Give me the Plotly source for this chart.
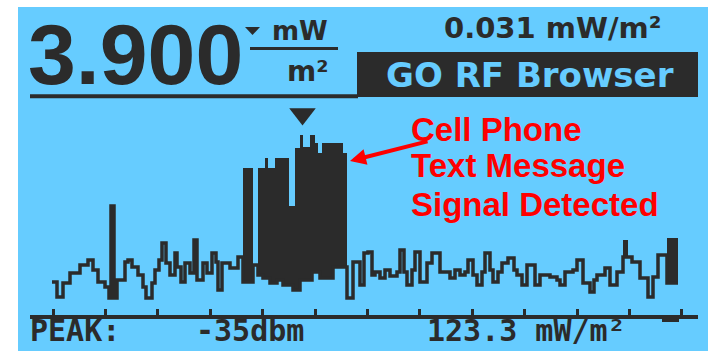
import plotly.graph_objects as go

# ---------------- data ----------------
# live spectrum trace: frequency bin vs level (dBm)
noise_bin = [22, 27, 33, 40, 50, 58, 63, 68, 75, 79,
             81, 84, 87, 95, 98, 102, 108, 113, 116, 122,
             125, 129, 132, 136, 140, 145, 147, 151, 155, 160,
             164, 167, 173, 177, 182, 186, 188, 192, 200, 208,
             213, 223, 228, 233, 240, 247, 253, 263, 270, 282,
             290, 303, 317, 323, 330, 334, 338, 342, 345, 350,
             355, 360, 367, 370, 374, 377, 382, 385, 390, 397,
             402, 410, 420, 425, 430, 435, 438, 443, 447, 452,
             455, 460, 463, 468, 472, 478, 484, 487, 492, 497,
             505, 510, 520, 527, 530, 535, 543, 547, 553, 560,
             564, 567, 575, 580, 587, 593, 598, 602, 610, 618,
             623, 628, 637, 648]
noise_dbm = [-108.5, -116, -109, -104, -100, -97.5, -102.5, -108.5, -111, -116.5,
             -70.5, -116.5, -107.5, -98.5, -97.5, -101, -105, -111, -116.5, -109,
             -102.5, -97.5, -89, -99, -105, -94, -101, -108.5, -99, -104,
             -87.5, -107.5, -99, -104, -94, -98.5, -112.5, -99, -101.5, -96,
             -108.5, -100, -105, -106.5, -109, -107.5, -110, -112.5, -107.5, -103.5,
             -106.5, -101, -116.5, -98.5, -110, -94, -93.5, -105, -103.5, -106.5,
             -102.5, -105.5, -103.5, -92.5, -103.5, -110, -102.5, -93.5, -108.5, -99,
             -94, -103.5, -106.5, -102.5, -105, -103.5, -97.5, -105, -110, -103.5,
             -94, -102.5, -108.5, -103.5, -99, -96.5, -102.5, -105, -110, -100,
             -110, -105, -106, -107.5, -110, -103.5, -102.5, -97.5, -109, -113.5,
             -107.5, -105, -101.5, -110, -103.5, -96, -96, -98.5, -106.5, -116,
             -106, -95, -109, -109]

# filled (max-hold) segments: start bin, end bin, top level, bottom level (dBm)
fill_start = [213, 228, 233, 235, 238, 240, 245, 247, 253, 259,
              263, 265, 270, 273, 280, 282, 285, 288, 290, 292,
              303, 313, 593, 637]
fill_end = [223, 233, 235, 238, 240, 245, 247, 253, 259, 263,
            265, 270, 273, 280, 282, 285, 288, 290, 292, 303,
            313, 317, 598, 648]
fill_top = [-51.5, -51.5, -51.5, -46.5, -51.5, -51.5, -46.5, -46.5, -46.5, -70.5,
            -70.5, -41.5, -35, -41, -35, -35, -39, -44, -44, -39,
            -39, -44, -87.5, -86.5]
fill_bottom = [-108.5, -105, -106.5, -106.5, -106.5, -109, -109, -107.5, -110, -110,
               -112.5, -112.5, -107.5, -107.5, -107.5, -103.5, -103.5, -103.5, -106.5, -106.5,
               -101, -101, -96, -109]

main_value = "3.900"
top_right_reading = "0.031 mW/m²"
mode_label = "GO RF Browser"
peak_label = "PEAK:"
peak_dbm = "-35dbm"
peak_density = "123.3 mW/m²"
callout_lines = ["Cell Phone", "Text Message", "Signal Detected"]

# ---------------- style ----------------
LCD = "#66CCFF"
INK = "#2B2B2B"
W, H = 720, 351


def px(x):
    return x / W


def py(y):
    return 1 - y / H


fig = go.Figure()

# filled segments as bars
fig.add_trace(go.Bar(
    x=[(s + e) / 2 for s, e in zip(fill_start, fill_end)],
    width=[e - s for s, e in zip(fill_start, fill_end)],
    base=fill_bottom,
    y=[t - b for t, b in zip(fill_top, fill_bottom)],
    marker=dict(color=INK, line=dict(width=0)),
    hoverinfo="skip", showlegend=False,
))

# live trace
fig.add_trace(go.Scatter(
    x=noise_bin, y=noise_dbm, mode="lines",
    line=dict(color=INK, width=3.5, shape="hv"),
    hoverinfo="skip", showlegend=False,
))

# peak marker
peak_i = max(range(len(fill_top)), key=lambda i: fill_top[i])
fig.add_trace(go.Scatter(
    x=[(fill_start[peak_i] + fill_end[peak_i]) / 2 + 1], y=[fill_top[peak_i] + 10.5],
    mode="markers",
    marker=dict(symbol="triangle-down", size=23, color=INK, line=dict(width=0)),
    hoverinfo="skip", showlegend=False,
))

shapes = [
    # LCD panel
    dict(type="rect", xref="paper", yref="paper", x0=px(18), x1=px(708), y0=py(352), y1=py(7),
         fillcolor=LCD, line=dict(width=0), layer="below"),
    # header underline
    dict(type="line", xref="paper", yref="paper", x0=px(30), x1=px(358), y0=py(96.3), y1=py(96.3),
         line=dict(color=INK, width=4)),
    # mode box
    dict(type="rect", xref="paper", yref="paper", x0=px(357), x1=px(698), y0=py(97), y1=py(52),
         fillcolor=INK, line=dict(width=0)),
    # fraction bar
    dict(type="line", xref="paper", yref="paper", x0=px(250), x1=px(338), y0=py(48.5), y1=py(48.5),
         line=dict(color=INK, width=3)),
    # small triangle near value
    dict(type="path", xref="paper", yref="paper",
         path=f"M {px(245)},{py(27)} L {px(260)},{py(27)} L {px(252.5)},{py(35)} Z",
         fillcolor=INK, line=dict(width=0)),
    # scale end notch
    dict(type="rect", xref="paper", yref="paper", x0=px(662), x1=px(679), y0=py(322), y1=py(315),
         fillcolor=INK, line=dict(width=0)),
]

ann = []


def txt(t, x, y, size, family, color=INK, xanchor="left", yanchor="middle"):
    ann.append(dict(text=t, x=px(x), y=py(y), xref="paper", yref="paper", showarrow=False,
                    xanchor=xanchor, yanchor=yanchor,
                    font=dict(size=size, family=family, color=color)))


MONO = "DejaVu Sans Mono"
SANS = "DejaVu Sans"
txt(f"<b>{main_value}</b>", 26, 54, 86, "Liberation Sans")
txt("<b>mW</b>", 300, 31, 26, SANS, xanchor="center")
txt("<b>m²</b>", 307, 71, 28, SANS, xanchor="center")
txt(f"<b>{top_right_reading}</b>", 553, 28, 29, SANS, xanchor="center")
txt(f"<b>{mode_label}</b>", 530, 75, 34, SANS, color=LCD, xanchor="center")
txt(f"<b>{peak_label}</b>", 28, 330, 30, MONO)
txt(f"<b>{peak_dbm}</b>", 194, 330, 30, MONO)
txt(f"<b>{peak_density}</b>", 425, 330, 30, MONO)
for line, yc in zip(callout_lines, [129, 165, 204]):
    txt(f"<b>{line}</b>", 409, yc, 33, "Liberation Sans", color="#FF0000")

# red arrow
ann.append(dict(text="", x=px(350), y=py(161), xref="paper", yref="paper",
                showarrow=True, ax=79, ay=-20, axref="pixel", ayref="pixel",
                arrowcolor="#FF0000", arrowwidth=4, arrowhead=2, arrowsize=0.8))

fig.update_layout(
    width=W, height=H, margin=dict(l=0, r=0, t=0, b=0),
    paper_bgcolor="white", plot_bgcolor="rgba(0,0,0,0)",
    shapes=shapes, annotations=ann, showlegend=False, bargap=0,
    xaxis=dict(domain=[px(30), px(698)], range=[0, 668], showgrid=False, zeroline=False,
               showticklabels=False, showline=True, linecolor=INK, linewidth=4,
               ticks="inside", ticklen=6, tickwidth=3, tickcolor=INK, tick0=23, dtick=52.4,
               anchor="free", position=py(316.5)),
    yaxis=dict(domain=[py(305), py(105)], range=[-120, -20], showgrid=False, zeroline=False,
               showticklabels=False, showline=False),
)

fig.write_html("out.html", config={"displayModeBar": False, "staticPlot": True},
               post_script="document.body.style.margin='0';document.body.style.overflow='hidden';")
